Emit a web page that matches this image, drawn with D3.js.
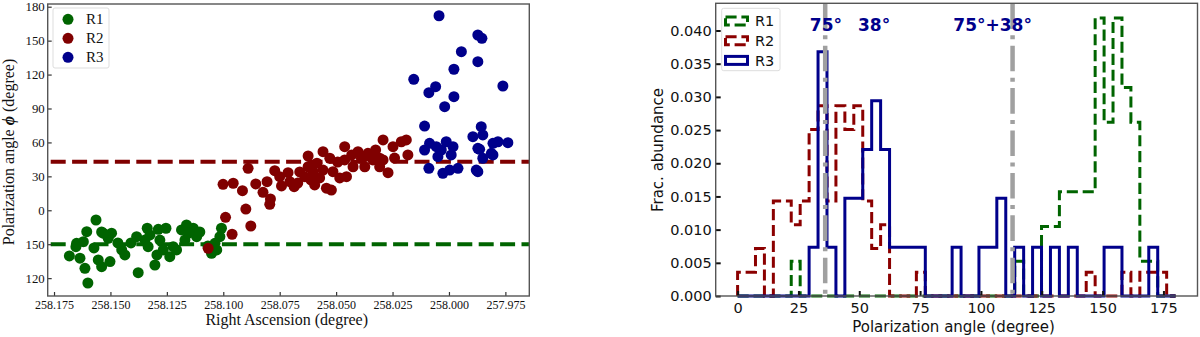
<!DOCTYPE html>
<html><head><meta charset="utf-8">
<script src="https://cdn.jsdelivr.net/npm/d3@7"></script>
<style>body{margin:0;background:#fff}svg{display:block}</style>
</head><body>
<svg id="c" width="1200" height="337"></svg>
<script>
// ---------------- DATA ----------------
// Left panel: scatter, [Right Ascension (deg), polarization angle (deg, values < 0 mean +180)]
const regions = ["R1", "R2", "R3"];
const r1Points = [[258.1682,-40.4],[258.1650,-29.2],[258.1635,-42.4],[258.1605,-18.9],[258.1613,-51.3],[258.1600,-64.3],[258.1564,-8.6],[258.1539,-19.2],[258.1495,-20.3],[258.1510,-24.8],[258.1554,-43.9],[258.1539,-49.9],[258.1502,-45.4],[258.1450,-35.1],[258.1436,-39.5],[258.1384,-23.3],[258.1377,-55.2],[258.1337,-15.9],[258.1347,-26.3],[258.1333,-32.2],[258.1303,-48.4],[258.1288,-16.8],[258.1254,-15.9],[258.1281,-26.3],[258.1266,-35.1],[258.1237,-41.0],[258.1207,-35.1],[258.1222,-32.2],[258.1185,-17.4],[258.1163,-13.0],[258.1133,-15.9],[258.1170,-26.3],[258.1118,-23.3],[258.1052,-38.0],[258.1037,-29.2],[258.1015,-23.3],[258.1008,-15.9],[258.1620,-27.8],[258.1653,-32.2],[258.1532,-20.3],[258.1467,-28.9],[258.1325,-21.8],[258.1153,-20.1],[258.1104,-19.2],[258.1029,-35.1],[258.1068,-31.6],[258.1409,-28.9],[258.1573,-33.3],[258.1294,-39.5]];
const r2Points = [[258.1067,-33.6],[258.0990,-6.2],[258.0961,-21.2],[258.1001,23.0],[258.0956,23.9],[258.0915,17.3],[258.0900,1.1],[258.0878,-13.9],[258.0890,37.1],[258.0824,15.9],[258.0806,25.3],[258.0791,10.0],[258.0794,5.3],[258.0772,35.0],[258.0750,29.7],[258.0742,21.5],[258.0713,33.2],[258.0705,25.3],[258.0686,20.9],[258.0639,29.7],[258.0624,38.5],[258.0624,48.0],[258.0602,34.1],[258.0595,22.4],[258.0585,41.6],[258.0558,51.8],[258.0558,35.6],[258.0543,19.5],[258.0521,17.9],[258.0514,34.1],[258.0528,46.0],[258.0462,56.2],[258.0462,44.5],[258.0454,29.7],[258.0425,38.5],[258.0403,51.8],[258.0388,46.0],[258.0359,50.4],[258.0373,38.5],[258.0337,44.5],[258.0307,38.5],[258.0292,44.5],[258.0270,33.2],[258.0292,62.2],[258.0248,56.2],[258.0211,60.6],[258.0189,62.2],[258.0182,48.9],[258.0344,48.9],[258.0307,46.0],[258.0373,47.4],[258.0661,33.9],[258.0670,24.1],[258.0573,28.6],[258.0493,42.7],[258.0484,28.6],[258.0431,48.9],[258.0325,53.3],[258.0241,46.2],[258.0856,23.3],[258.0612,26.8]];
const r3Points = [[258.0044,172.0],[257.9945,140.2],[257.9978,124.7],[258.0156,115.8],[258.0089,104.0],[258.0059,109.3],[257.9978,100.4],[258.0019,91.6],[258.0108,74.5],[258.0086,59.2],[258.0108,53.3],[258.0056,56.2],[258.0012,60.6],[257.9982,56.2],[258.0049,47.4],[257.9990,48.9],[258.0089,37.1],[258.0027,32.7],[257.9997,35.6],[257.9960,37.1],[257.9894,65.1],[257.9872,155.0],[257.9854,152.1],[257.9872,131.4],[257.9872,54.8],[257.9879,35.6],[257.9761,109.9],[257.9857,73.9],[257.9850,66.6],[257.9805,59.2],[257.9783,60.6],[257.9739,59.8],[257.9864,53.9],[257.9812,50.4],[257.9850,46.0],[258.0034,53.3],[257.9872,34.1],[257.9805,48.9]];
const meanAngles = [-30, 43];            // dashed reference lines: R1 (150 deg), R2
const leftXTicks = [258.175,258.150,258.125,258.100,258.075,258.050,258.025,258.000,257.975];
const leftYTicks = [-60,-30,0,30,60,90,120,150,180];

// Right panel: histograms (counts per bin, 49 equal bins over 0-180 deg)
const binRange = [0, 180];
const binCount = 49;
const r1Counts = [0,0,0,0,0,0,1,0,0,0,0,0,0,0,0,0,0,0,0,0,0,0,0,0,0,0,0,0,0,0,0,1,0,0,2,2,3,3,3,3,8,5,8,6,5,1,1,0,0];
const r2Counts = [1,1,2,0,4,4,3,4,7,8,4,8,7,8,4,2,3,0,0,0,1,0,0,0,0,0,0,0,0,0,0,0,0,0,0,0,0,0,0,1,0,0,0,1,0,1,1,1,0];
const r3Counts = [0,0,0,0,0,0,0,0,1,5,1,0,2,2,3,4,3,1,1,1,1,0,0,0,1,0,0,1,1,2,0,1,0,1,0,1,0,1,0,0,0,1,1,0,0,0,1,0,0];
const refLines = [36, 113];
const annotations = [{text:"75°", x:36.3}, {text:"38°", x:56.1}, {text:"75°+38°", x:104.8}];
const annotY = 0.040;
const rightXTicks = [0,25,50,75,100,125,150,175];
const rightYTicks = [0,0.005,0.010,0.015,0.020,0.025,0.030,0.035,0.040];

// ---------------- STYLE ----------------
const colors = ["#006400", "#800000", "#00008b"];
const histColors = ["#006400", "#8b0000", "#00008b"];
const svg = d3.select("#c");
const serif = "'Liberation Serif','Times New Roman',serif";
const sans = "'DejaVu Sans',sans-serif";

// ---------------- LEFT PANEL ----------------
const xL = d3.scaleLinear().domain([258.1778, 257.9644]).range([47.7, 529.3]);
const yL = d3.scaleLinear().domain([-75.8, 182.4]).range([296, 4]);
const gL = svg.append("g");

meanAngles.forEach((v, i) => {
  gL.append("line").attr("x1", xL.range()[0]).attr("x2", xL.range()[1])
    .attr("y1", yL(v)).attr("y2", yL(v))
    .attr("stroke", i === 0 ? colors[0] : colors[1]).attr("stroke-width", 4)
    .attr("stroke-dasharray", "15,6.4").attr("stroke-dashoffset", -3);
});

[r1Points, r2Points, r3Points].forEach((pts, i) => {
  gL.append("g").selectAll("circle").data(pts).join("circle")
    .attr("cx", d => xL(d[0])).attr("cy", d => yL(d[1])).attr("r", 5.5)
    .attr("fill", colors[i]);
});

const axL = gL.append("g").attr("transform", `translate(0,${yL.range()[0]})`)
  .call(d3.axisBottom(xL).tickValues(leftXTicks).tickFormat(d3.format(".3f")).tickSize(-4).tickSizeOuter(0).tickPadding(4));
const ayL = gL.append("g").attr("transform", `translate(${xL.range()[0]},0)`)
  .call(d3.axisLeft(yL).tickValues(leftYTicks).tickFormat(d => d < 0 ? d + 180 : d).tickSize(-4).tickSizeOuter(0).tickPadding(3));
[axL, ayL].forEach(a => {
  a.select(".domain").remove();
  a.selectAll("text").attr("font-family", serif).attr("fill", "#111");
  a.selectAll("line").attr("stroke", "#333").attr("stroke-width", 1.2);
});
axL.selectAll("text").attr("font-size", 12);
ayL.selectAll("text").attr("font-size", 12.8);

gL.append("rect").attr("x", 47.7).attr("y", 4).attr("width", 529.3 - 47.7).attr("height", 292)
  .attr("fill", "none").attr("stroke", "#555").attr("stroke-width", 1.4);

gL.append("text").attr("x", 286.7).attr("y", 325).attr("text-anchor", "middle")
  .attr("font-family", serif).attr("font-size", 16).attr("fill", "#111").text("Right Ascension (degree)");
const yt = gL.append("text").attr("transform", "translate(14,152) rotate(-90)").attr("text-anchor", "middle")
  .attr("font-family", serif).attr("font-size", 16).attr("fill", "#111");
yt.append("tspan").text("Polarization angle ");
yt.append("tspan").attr("font-weight", "bold").attr("font-style", "italic").text("ϕ");
yt.append("tspan").text(" (degree)");

// legend
const lgL = gL.append("g");
lgL.append("rect").attr("x", 53).attr("y", 8).attr("width", 56).attr("height", 60).attr("rx", 2)
  .attr("fill", "#fff").attr("fill-opacity", 0.8).attr("stroke", "#ddd");
regions.forEach((r, i) => {
  lgL.append("circle").attr("cx", 68).attr("cy", 19.3 + i * 19).attr("r", 5.5).attr("fill", colors[i]);
  lgL.append("text").attr("x", 86).attr("y", 19.3 + i * 19 + 5).attr("font-family", serif)
    .attr("font-size", 15).attr("fill", "#111").text(r);
});

// ---------------- RIGHT PANEL ----------------
const xR = d3.scaleLinear().domain([-9, 189]).range([715.7, 1197.5]);
const yR = d3.scaleLinear().domain([0, 0.0441]).range([296, 3.3]);
const gR = svg.append("g");
const edges = d3.range(binCount + 1).map(k => binRange[0] + k * (binRange[1] - binRange[0]) / binCount);
const binW = (binRange[1] - binRange[0]) / binCount;

function stepPoints(counts) {
  const n = d3.sum(counts);
  const pts = [[edges[0], 0]];
  counts.forEach((c, k) => {
    const h = c / (n * binW);
    pts.push([edges[k], h]);
    pts.push([edges[k + 1], h]);
  });
  pts.push([edges[binCount], 0]);
  return pts;
}
const line = d3.line().x(d => xR(d[0])).y(d => yR(d[1]));
const dashes = ["11.1,4.8", "11.1,4.8", null];
[r1Counts, r2Counts, r3Counts].forEach((c, i) => {
  gR.append("path").attr("d", line(stepPoints(c))).attr("fill", "none")
    .attr("stroke", histColors[i]).attr("stroke-width", 3).attr("stroke-linejoin", "miter")
    .attr("stroke-dasharray", dashes[i]);
});

refLines.forEach(v => {
  gR.append("line").attr("x1", xR(v)).attr("x2", xR(v)).attr("y1", yR.range()[1]).attr("y2", yR.range()[0])
    .attr("stroke", "#a0a0a0").attr("stroke-width", 4.5).attr("stroke-dasharray", "25.6,6.4,4,6.4");
});

annotations.forEach(a => {
  gR.append("text").attr("x", xR(a.x)).attr("y", yR(annotY)).attr("text-anchor", "middle")
    .attr("font-family", sans).attr("font-weight", "bold").attr("font-size", 17)
    .attr("fill", "#00008b").text(a.text);
});

const axR = gR.append("g").attr("transform", `translate(0,${yR.range()[0]})`)
  .call(d3.axisBottom(xR).tickValues(rightXTicks).tickSize(-5).tickSizeOuter(0).tickPadding(7));
const ayR = gR.append("g").attr("transform", `translate(${xR.range()[0]},0)`)
  .call(d3.axisLeft(yR).tickValues(rightYTicks).tickFormat(d3.format(".3f")).tickSize(-5).tickSizeOuter(0).tickPadding(4));
[axR, ayR].forEach(a => {
  a.select(".domain").remove();
  a.selectAll("text").attr("font-family", sans).attr("font-size", 14.5).attr("fill", "#111");
  a.selectAll("line").attr("stroke", "#111").attr("stroke-width", 2);
});
gR.append("rect").attr("x", 715.7).attr("y", 3.3).attr("width", 1197.5 - 715.7).attr("height", 296 - 3.3)
  .attr("fill", "none").attr("stroke", "#555").attr("stroke-width", 1.4);

gR.append("text").attr("x", 953.5).attr("y", 331.5).attr("text-anchor", "middle")
  .attr("font-family", sans).attr("font-size", 15).attr("fill", "#111").text("Polarization angle (degree)");
gR.append("text").attr("transform", "translate(663,150) rotate(-90)").attr("text-anchor", "middle")
  .attr("font-family", sans).attr("font-size", 15).attr("fill", "#111").text("Frac. abundance");

const lgR = gR.append("g");
lgR.append("rect").attr("x", 721.7).attr("y", 8.3).attr("width", 58.3).attr("height", 62.4).attr("rx", 2)
  .attr("fill", "#fff").attr("fill-opacity", 0.8).attr("stroke", "#ddd");
regions.forEach((r, i) => {
  const cy = 21 + i * 19.7;
  lgR.append("rect").attr("x", 725.5).attr("y", cy - 4).attr("width", 22).attr("height", 8)
    .attr("fill", "none").attr("stroke", histColors[i]).attr("stroke-width", 3)
    .attr("stroke-dasharray", dashes[i]);
  lgR.append("text").attr("x", 755).attr("y", cy + 5.2).attr("font-family", sans)
    .attr("font-size", 14.5).attr("fill", "#111").text(r);
});
</script>
</body></html>
